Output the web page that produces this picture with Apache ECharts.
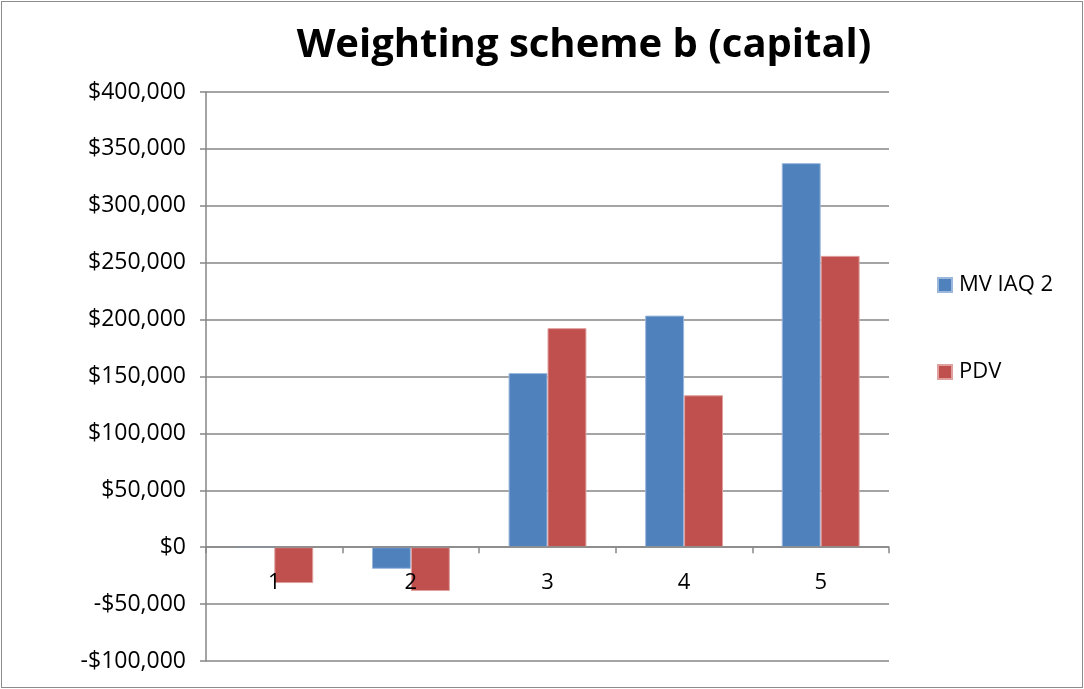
<!DOCTYPE html>
<html>
<head>
<meta charset="utf-8">
<script src="https://cdn.jsdelivr.net/npm/echarts@6/dist/echarts.min.js"></script>
<style>
  html, body { margin: 0; padding: 0; background: #fff; }
  #chart {
    position: absolute; left: 1px; top: 1px;
    width: 1080px; height: 685px;
    border: 1px solid #8c8c8c;
  }
</style>
</head>
<body>
<div id="chart"></div>
<script>
// categories and values
const categories = ["1", "2", "3", "4", "5"];
const mvIaq2 = [0, -19000, 153000, 203500, 337500];
const pdv = [-31500, -38500, 192500, 133500, 256000];
const yTicks = { min: -100000, max: 400000, interval: 50000 };

const chart = echarts.init(document.getElementById("chart"));
const font = "Open Sans, Noto Sans, sans-serif";

const option = {
  animation: false,
  title: {
    text: "Weighting scheme b (capital)",
    left: 577,
    top: 19,
    textAlign: "center",
    textStyle: { fontSize: 40, fontWeight: "bold", color: "#000", fontFamily: font },
  },
  legend: {
    orient: "vertical",
    left: 930,
    top: 267,
    itemWidth: 14,
    itemHeight: 14,
    itemGap: 65,
    icon: "rect",
    textStyle: { fontSize: 22, color: "#000", fontFamily: font, padding: [0, 0, 0, 2] },
    data: ["MV IAQ 2", "PDV"],
  },
  grid: { left: 204, right: 193, top: 90, bottom: 26, outerBoundsMode: "none" },
  xAxis: {
    type: "category",
    data: categories,
    z: 5, // category labels drawn over the bars, as in the original
    axisLine: { onZero: true, lineStyle: { color: "#868686", width: 1.5 } },
    axisTick: { show: true, length: 6, inside: false, lineStyle: { color: "#868686", width: 1.5 } },
    // labels sit just under the zero line
    axisLabel: { margin: -89, fontSize: 22, color: "#000", fontFamily: font },
  },
  yAxis: {
    type: "value",
    min: yTicks.min,
    max: yTicks.max,
    interval: yTicks.interval,
    axisLine: { show: true, lineStyle: { color: "#868686", width: 1.5 } },
    axisTick: { show: true, length: 6, lineStyle: { color: "#868686", width: 1.5 } },
    axisLabel: {
      margin: 20,
      fontSize: 23,
      color: "#000",
      fontFamily: font,
      formatter: (v) => (v < 0 ? "-$" : "$") + Math.abs(v).toLocaleString("en-US"),
    },
    splitLine: { show: true, lineStyle: { color: "#868686", width: 1.5 } },
  },
  series: [
    {
      name: "MV IAQ 2",
      type: "bar",
      data: mvIaq2,
      barGap: "0%",
      barCategoryGap: "43%",
      itemStyle: { color: "#4F81BD", borderColor: "#9bb7dc", borderWidth: 1 },
    },
    {
      name: "PDV",
      type: "bar",
      data: pdv,
      itemStyle: { color: "#C0504D", borderColor: "#e0a09e", borderWidth: 1 },
    },
  ],
};
chart.setOption(option);
</script>
</body>
</html>
